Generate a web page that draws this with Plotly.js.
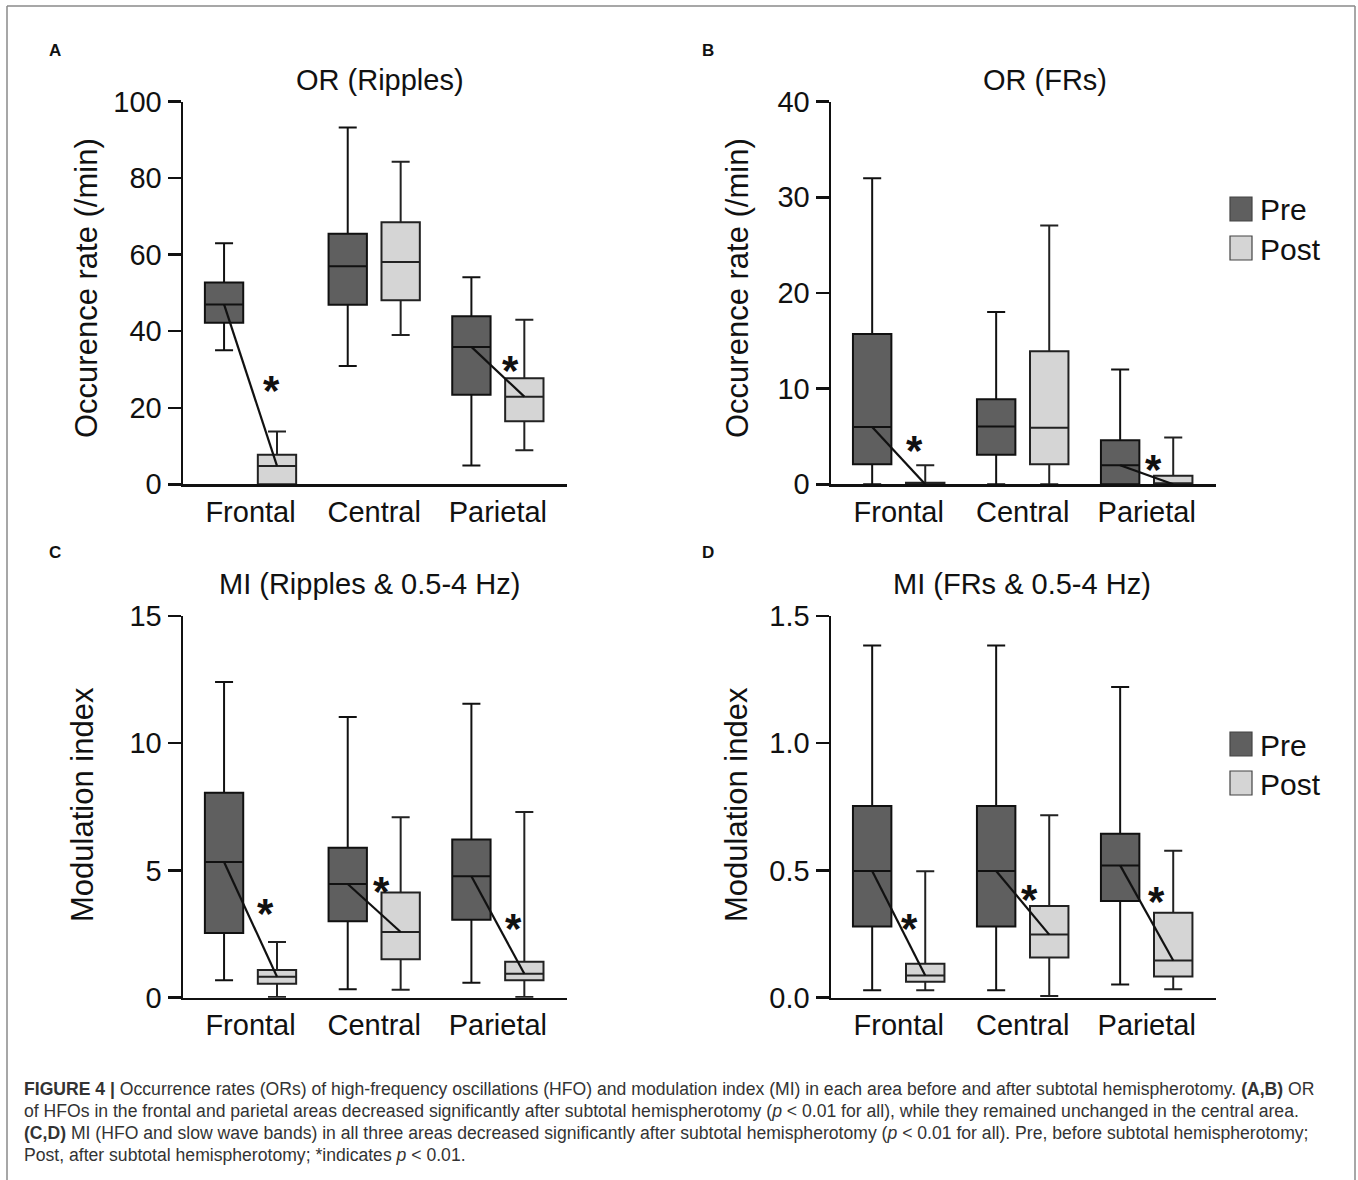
<!DOCTYPE html>
<html>
<head>
<meta charset="utf-8">
<script src="https://cdn.plot.ly/plotly-3.0.1.min.js"></script>
<style>html,body{margin:0;padding:0;background:#fff;}#chart{width:1358px;height:1180px;}</style>
</head>
<body>
<div id="chart"></div>
<script>
// ---------------- data ----------------
const categories = ["Frontal", "Central", "Parietal"];
const groups = ["Pre", "Post"];

// Panel A: OR (Ripples)
const A_pre  = {low:[35, 30.9, 4.9],  q1:[42.2, 46.9, 23.4], med:[47, 57, 35.9],   q3:[52.7, 65.5, 43.9], high:[63, 93.2, 54.1]};
const A_post = {low:[0, 39, 8.9],     q1:[0, 48.1, 16.5],    med:[4.8, 58.1, 22.9], q3:[7.7, 68.5, 27.7], high:[13.8, 84.3, 43]};
const A_sig = [0, 2];
const A_star = [27, null, 32.4];

// Panel B: OR (FRs)
const B_pre  = {low:[0, 0, 0], q1:[2.1, 3.1, 0],   med:[6, 6.05, 2],  q3:[15.7, 8.9, 4.6],  high:[32, 18, 12]};
const B_post = {low:[0, 0, 0], q1:[0, 2.1, 0],     med:[0, 5.9, 0],   q3:[0.15, 13.9, 0.9], high:[2, 27.05, 4.9]};
const B_sig = [0, 2];
const B_star = [4.6, null, 2.6];

// Panel C: MI (Ripples & 0.5-4 Hz)
const C_pre  = {low:[0.69, 0.33, 0.59], q1:[2.54, 3.0, 3.06], med:[5.33, 4.47, 4.77], q3:[8.05, 5.89, 6.22], high:[12.41, 11.03, 11.55]};
const C_post = {low:[0.03, 0.31, 0.03], q1:[0.55, 1.51, 0.69], med:[0.82, 2.58, 0.94], q3:[1.09, 4.13, 1.41], high:[2.19, 7.09, 7.3]};
const C_sig = [0, 1, 2];
const C_star = [3.7, 4.56, 3.13];

// Panel D: MI (FRs & 0.5-4 Hz)
const D_pre  = {low:[0.029, 0.029, 0.052], q1:[0.28, 0.28, 0.38], med:[0.498, 0.498, 0.52], q3:[0.753, 0.753, 0.644], high:[1.384, 1.384, 1.221]};
const D_post = {low:[0.029, 0.007, 0.033], q1:[0.063, 0.158, 0.083], med:[0.087, 0.248, 0.146], q3:[0.133, 0.36, 0.334], high:[0.497, 0.717, 0.577]};
const D_sig = [0, 1, 2];
const D_star = [0.313, 0.424, 0.417];

const titles = ["OR (Ripples)", "OR (FRs)", "MI (Ripples & 0.5-4 Hz)", "MI (FRs & 0.5-4 Hz)"];
const yTitles = ["Occurence rate (/min)", "Occurence rate (/min)", "Modulation index", "Modulation index"];
const panelLetters = ["A", "B", "C", "D"];
const yTickVals = [[0,20,40,60,80,100],[0,10,20,30,40],[0,5,10,15],[0,0.5,1.0,1.5]];
const yTickText = [["0","20","40","60","80","100"],["0","10","20","30","40"],["0","5","10","15"],["0.0","0.5","1.0","1.5"]];
const yRanges = [[0,100],[0,40],[0,15],[0,1.5]];

// ---------------- style / layout ----------------
const W = 1358, H = 1180;
const FONT = "Liberation Sans, Arial, Helvetica, sans-serif";
const OFF = 0.214, BOXW = 0.31;
const starOff = [[0.166,0,0.105],[0.129,0,0.056],[0.125,0.06,0.13],[0.089,0.056,0.08]];
const PRE_FILL = "#5f5f5f", POST_FILL = "#d5d5d5";
const px = v => v / W, py = v => 1 - v / H;

const xDomLeft = [px(183), px(567)], xDomRight = [px(831), px(1216)];
const yDomTop = [py(484.3), py(101.6)], yDomBot = [py(997.7), py(616)];
const doms = [[xDomLeft,yDomTop],[xDomRight,yDomTop],[xDomLeft,yDomBot],[xDomRight,yDomBot]];

const panels = [[A_pre,A_post,A_sig,A_star],[B_pre,B_post,B_sig,B_star],[C_pre,C_post,C_sig,C_star],[D_pre,D_post,D_sig,D_star]];

const traces = [];
const layout = {
  width: W, height: H, margin:{l:0,r:0,t:0,b:0},
  paper_bgcolor:"#ffffff", plot_bgcolor:"rgba(0,0,0,0)",
  showlegend:false, font:{family:FONT, color:"#111"},
  annotations:[], shapes:[]
};

panels.forEach((p, i) => {
  const n = i + 1;
  const xa = n === 1 ? "x" : "x" + n, ya = n === 1 ? "y" : "y" + n;
  const xk = n === 1 ? "xaxis" : "xaxis" + n, yk = n === 1 ? "yaxis" : "yaxis" + n;
  const [pre, post, sig, star] = p;
  [[pre, -OFF, PRE_FILL, "#111", groups[0]], [post, OFF, POST_FILL, "#222", groups[1]]].forEach(([d, o, fill, lc, name]) => {
    traces.push({
      type:"box", name:name, xaxis:xa, yaxis:ya,
      x: categories.map((c, k) => k + o),
      q1:d.q1, median:d.med, q3:d.q3, lowerfence:d.low, upperfence:d.high,
      width: BOXW, whiskerwidth:0.47, boxpoints:false,
      fillcolor:fill, line:{color:lc, width:2}, hoverinfo:"skip"
    });
  });
  sig.forEach(k => {
    traces.push({
      type:"scatter", mode:"lines", xaxis:xa, yaxis:ya,
      x:[k - OFF, k + OFF], y:[pre.med[k], post.med[k]],
      line:{color:"#111", width:2.2}, hoverinfo:"skip"
    });
    layout.annotations.push({
      xref:xa, yref:ya, x:k + starOff[i][k], y:star[k], text:"<b>*</b>", showarrow:false,
      font:{size:42, family:FONT, color:"#111"}, yshift:-10
    });
  });
  layout[xk] = {
    domain:doms[i][0], anchor:ya, range:[-0.546, 2.559],
    tickvals:[0,1,2], ticktext:categories, ticks:"", showgrid:false, zeroline:false,
    showline:true, linecolor:"#111", linewidth:2.5,
    tickfont:{size:29, family:FONT, color:"#111"}, ticklabelstandoff:0, fixedrange:true
  };
  layout[yk] = {
    domain:doms[i][1], anchor:xa, range:yRanges[i],
    tickvals:yTickVals[i], ticktext:yTickText[i], ticks:"outside", ticklen:13, tickwidth:2.5, tickcolor:"#111",
    showgrid:false, zeroline:false, showline:true, linecolor:"#111", linewidth:2.5,
    tickfont:{size:29, family:FONT, color:"#111"}, fixedrange:true
  };
});

// titles, axis titles, panel letters
const titlePos = [[380,80],[1045,80],[370,584],[1022,584]];
const yTitlePos = [[86,288],[737,288],[82,805],[736,805]];
const letterPos = [[55,50],[708,50],[55,552],[708,552]];
for (let i = 0; i < 4; i++) {
  layout.annotations.push({xref:"paper", yref:"paper", x:px(titlePos[i][0]), y:py(titlePos[i][1]), text:titles[i], showarrow:false, xanchor:"center", yanchor:"middle", font:{size:29, family:FONT, color:"#111"}});
  layout.annotations.push({xref:"paper", yref:"paper", x:px(yTitlePos[i][0]), y:py(yTitlePos[i][1]), text:yTitles[i], textangle:-90, showarrow:false, xanchor:"center", yanchor:"middle", font:{size:31, family:FONT, color:"#111"}});
  layout.annotations.push({xref:"paper", yref:"paper", x:px(letterPos[i][0]), y:py(letterPos[i][1]), text:"<b>" + panelLetters[i] + "</b>", showarrow:false, xanchor:"center", yanchor:"middle", font:{size:17, family:FONT, color:"#111"}});
}

// legends (panels B and D)
[[197,236],[732,771]].forEach(([yPre, yPost]) => {
  [[yPre, PRE_FILL, groups[0]], [yPost, POST_FILL, groups[1]]].forEach(([y0, fill, name]) => {
    layout.shapes.push({type:"rect", xref:"paper", yref:"paper", x0:px(1230), x1:px(1252), y0:py(y0+24), y1:py(y0), fillcolor:fill, line:{color:"#444", width:1.2}});
    layout.annotations.push({xref:"paper", yref:"paper", x:px(1258), y:py(y0+13), text:name, showarrow:false, xanchor:"left", yanchor:"middle", font:{size:30, family:FONT, color:"#111"}});
  });
});

// figure frame
layout.shapes.push({type:"line", xref:"paper", yref:"paper", x0:px(7), x1:px(1355), y0:py(6), y1:py(6), line:{color:"#8a8a8a", width:1.5}});
layout.shapes.push({type:"line", xref:"paper", yref:"paper", x0:px(7), x1:px(7), y0:py(6), y1:0, line:{color:"#8a8a8a", width:1.5}});
layout.shapes.push({type:"line", xref:"paper", yref:"paper", x0:px(1355), x1:px(1355), y0:py(6), y1:0, line:{color:"#8a8a8a", width:1.5}});

// caption
const captionLines = [
  "<b>FIGURE 4 |</b> Occurrence rates (ORs) of high-frequency oscillations (HFO) and modulation index (MI) in each area before and after subtotal hemispherotomy. <b>(A,B)</b> OR",
  "of HFOs in the frontal and parietal areas decreased significantly after subtotal hemispherotomy (<i>p</i> &lt; 0.01 for all), while they remained unchanged in the central area.",
  "<b>(C,D)</b> MI (HFO and slow wave bands) in all three areas decreased significantly after subtotal hemispherotomy (<i>p</i> &lt; 0.01 for all). Pre, before subtotal hemispherotomy;",
  "Post, after subtotal hemispherotomy; *indicates <i>p</i> &lt; 0.01."
];
const captionY = [1089, 1111, 1133, 1155];
captionLines.forEach((t, k) => {
  layout.annotations.push({xref:"paper", yref:"paper", x:px(22), y:py(captionY[k]), text:t, showarrow:false, xanchor:"left", yanchor:"middle", align:"left", font:{size:17.6, family:FONT, color:"#333"}});
});

Plotly.newPlot("chart", traces, layout, {staticPlot:true, displayModeBar:false});
</script>
</body>
</html>
